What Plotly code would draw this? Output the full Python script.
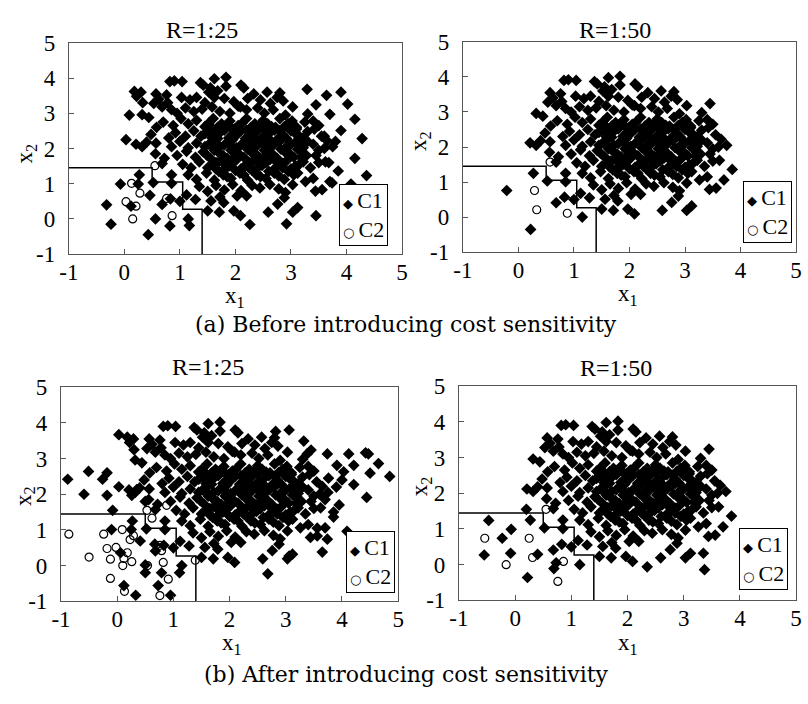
import plotly.graph_objects as go

tick_vals = [-1, 0, 1, 2, 3, 4, 5]
tick_text = ["-1", "0", "1", "2", "3", "4", "5"]
boundary_x = [-1, 0.5, 0.5, 1.05, 1.05, 1.4, 1.4]
boundary_y = [1.45, 1.45, 1.05, 1.05, 0.27, 0.27, -1]
titles = ["R=1:25", "R=1:50", "R=1:25", "R=1:50"]
captions = ["(a) Before introducing cost sensitivity", "(b) After introducing cost sensitivity"]
class_names = ["C1", "C2"]

# C1 points shared by all four panels (majority class cloud)
c1_core = [
    (0.82, 3.9), (0.9, 3.92), (1.04, 3.9), (1.37, 3.87), (1.62, 3.98), (1.83, 4.02),
    (1.42, 3.8), (1.55, 3.72), (1.68, 3.64), (1.83, 3.77), (2.1, 3.8), (2.15, 3.72), (2.33, 3.55),
    (2.57, 3.6), (2.8, 3.58), (0.57, 3.55), (0.76, 3.52), (1.52, 3.6),
    (0.53, 3.28), (0.62, 3.4), (0.78, 3.3), (1.03, 3.45), (1.18, 3.38), (1.3, 3.45), (1.45, 3.3),
    (1.62, 3.45), (1.8, 3.42), (1.97, 3.33), (2.22, 3.42), (2.45, 3.38), (2.63, 3.28), (2.75, 3.45),
    (2.86, 3.35), (3.45, 3.24), (2.05, 3.2),
    (0.32, 2.96), (0.44, 2.88), (0.68, 3.18), (0.85, 3.1), (0.95, 3.0), (1.1, 3.15), (1.25, 3.05),
    (1.4, 3.12), (1.58, 3.18), (1.72, 3.05), (1.9, 3.0), (2.09, 3.18), (2.2, 3.1), (2.4, 3.15),
    (2.52, 3.0), (2.68, 3.1), (2.9, 2.95), (3.03, 3.18), (3.3, 2.98), (3.4, 2.78),
    (0.58, 2.6), (0.7, 2.75), (0.88, 2.65), (1.02, 2.85), (1.15, 2.7), (1.3, 2.8), (1.45, 2.62),
    (1.6, 2.85), (1.75, 2.7), (1.9, 2.78), (2.05, 2.65), (2.2, 2.85), (2.35, 2.7), (2.5, 2.8),
    (2.65, 2.62), (2.8, 2.85), (2.95, 2.7), (3.1, 2.6), (3.25, 2.75), (3.5, 2.65), (3.42, 2.55),
    (0.48, 2.4), (0.8, 2.3), (0.92, 2.45), (1.1, 2.35), (1.25, 2.5), (1.38, 2.35), (1.52, 2.5),
    (1.65, 2.38), (1.8, 2.52), (1.95, 2.4), (2.1, 2.5), (2.25, 2.35), (2.4, 2.5), (2.55, 2.38),
    (2.7, 2.52), (2.85, 2.4), (3.0, 2.5), (3.15, 2.35), (3.3, 2.48), (3.55, 2.35), (3.65, 2.22),
    (0.21, 2.12), (0.32, 2.05), (0.4, 2.18), (0.57, 2.15), (0.85, 2.05), (1.0, 2.2), (1.15, 2.02),
    (1.3, 2.15), (1.45, 2.05), (1.6, 2.2), (1.72, 2.05), (1.88, 2.18), (2.02, 2.02), (2.18, 2.2),
    (2.32, 2.05), (2.48, 2.18), (2.62, 2.02), (2.78, 2.2), (2.92, 2.05), (3.08, 2.18), (3.22, 2.02),
    (3.4, 2.12), (3.6, 2.0), (3.75, 2.05),
    (0.56, 1.85), (0.72, 1.72), (0.95, 1.8), (1.12, 1.92), (1.28, 1.75), (1.42, 1.9), (1.55, 1.72),
    (1.7, 1.88), (1.85, 1.72), (2.0, 1.9), (2.15, 1.75), (2.3, 1.92), (2.45, 1.72), (2.6, 1.88),
    (2.75, 1.72), (2.9, 1.9), (3.05, 1.75), (3.2, 1.9), (3.45, 1.8), (3.62, 1.62), (3.5, 1.95),
    (0.68, 1.57), (1.05, 1.55), (1.2, 1.45), (1.35, 1.62), (1.5, 1.45), (1.65, 1.6), (1.8, 1.42),
    (1.95, 1.58), (2.1, 1.42), (2.25, 1.6), (2.4, 1.45), (2.55, 1.6), (2.7, 1.42), (2.85, 1.58),
    (3.0, 1.42), (3.15, 1.55), (3.35, 1.45), (3.85, 1.36), (3.5, 1.6),
    (1.15, 1.25), (1.3, 1.12), (1.48, 1.3), (1.62, 1.1), (1.78, 1.25), (1.92, 1.15), (2.08, 1.3),
    (2.22, 1.1), (2.38, 1.25), (2.55, 1.15), (2.7, 1.3), (2.88, 1.12), (3.05, 1.25), (3.26, 1.06),
    (3.4, 1.15), (3.7, 1.06),
    (1.35, 0.92), (1.5, 0.78), (1.65, 0.95), (1.8, 0.82), (1.95, 0.98), (2.1, 0.8), (2.3, 0.95),
    (2.44, 0.88), (2.62, 0.98), (2.78, 0.85), (2.9, 0.75), (3.03, 0.97), (3.44, 0.79), (3.56, 0.83),
    (1.56, 0.51), (1.5, 0.23), (1.71, 0.19), (1.79, 0.46), (1.97, 0.23), (2.03, 0.65), (2.09, 0.09),
    (2.2, 0.65), (2.59, 0.19), (2.76, 0.42), (2.88, 0.6), (3.03, 0.19), (3.12, 0.32), (1.72, 0.62),
    (0.85, 1.25), (0.85, 1.01), (0.68, 0.41), (0.83, 0.57), (1.0, 0.5), (1.15, 0.0), (1.12, 0.68),
    (1.28, 0.55), (0.52, 1.03), (0.27, 1.25),
]

# dense centre of the C1 cloud
c1_dense = [
    (1.52, 2.72), (1.68, 2.6), (1.82, 2.65), (1.98, 2.55), (2.12, 2.72), (2.28, 2.6), (2.42, 2.62),
    (2.58, 2.7), (2.72, 2.6), (2.88, 2.62), (3.02, 2.78),
    (1.45, 2.42), (1.58, 2.3), (1.72, 2.45), (1.88, 2.3), (2.02, 2.42), (2.18, 2.28), (2.32, 2.42),
    (2.48, 2.3), (2.62, 2.45), (2.78, 2.3), (2.92, 2.28), (3.08, 2.42), (3.22, 2.3),
    (1.52, 2.12), (1.68, 2.28), (1.8, 2.1), (1.95, 2.25), (2.1, 2.1), (2.25, 2.25), (2.4, 2.1),
    (2.55, 2.25), (2.7, 2.12), (2.85, 2.28), (3.0, 2.12), (3.15, 2.25), (3.3, 2.2),
    (1.48, 1.82), (1.62, 1.95), (1.78, 1.8), (1.92, 1.95), (2.08, 1.82), (2.22, 1.98), (2.38, 1.82),
    (2.52, 1.95), (2.68, 1.82), (2.82, 1.98), (2.98, 1.85), (3.12, 1.98), (3.28, 1.8),
    (1.58, 1.55), (1.72, 1.65), (1.88, 1.5), (2.02, 1.68), (2.18, 1.52), (2.32, 1.65), (2.48, 1.52),
    (2.62, 1.68), (2.78, 1.52), (2.92, 1.65), (3.08, 1.5), (3.22, 1.62),
    (1.7, 1.35), (1.85, 1.2), (2.0, 1.38), (2.15, 1.25), (2.3, 1.38), (2.45, 1.2), (2.6, 1.35),
    (2.78, 1.22), (2.95, 1.35), (3.12, 1.3),
    (1.6, 2.55), (1.9, 2.62), (2.2, 2.52), (2.5, 2.58), (2.8, 2.5), (3.1, 2.55),
    (1.62, 2.02), (1.92, 2.08), (2.28, 1.9), (2.55, 2.05), (2.88, 1.92), (3.18, 2.1),
    (1.65, 1.42), (1.98, 1.75), (2.25, 1.45), (2.52, 1.75), (2.85, 1.45), (3.18, 1.75),
    (2.35, 2.3), (2.65, 2.2), (2.0, 2.35), (2.42, 1.6), (2.72, 1.65), (1.78, 1.6),
]

# panel (a) R=1:25 extra C1 points
c1_extra_a25 = [
    (0.18, 3.62), (0.3, 3.6), (0.22, 3.48), (0.33, 3.3), (0.09, 2.95), (0.03, 2.25),
    (3.29, 3.68), (3.64, 3.51), (3.9, 3.6), (4.02, 3.26), (3.7, 2.97), (4.15, 2.83), (4.28, 2.28),
    (3.9, 2.51), (4.15, 1.72), (4.36, 1.23), (4.08, 0.99), (3.74, 1.02), (3.68, 1.6), (3.45, 0.09),
    (2.92, -0.14), (2.26, -0.16), (3.8, 2.2), (3.6, 2.35),
    (-0.32, 0.40), (-0.24, -0.15), (-0.07, 0.99), (0.25, 0.99), (0.12, 0.36), (0.46, 0.67),
    (0.56, 0.0), (0.43, -0.45), (0.82, -0.2), (1.17, -0.19),
]
c2_a25 = [(0.55, 1.51), (0.13, 1.01), (0.28, 0.73), (0.03, 0.49), (0.21, 0.36), (0.15, 0.0),
          (0.76, 0.58), (0.86, 0.09)]

# panel (a) R=1:50
c1_extra_a50 = [(-0.21, 0.76), (0.22, -0.35)]
c2_a50 = [(0.57, 1.57), (0.29, 0.76), (0.33, 0.21), (0.88, 0.11)]

# panel (b) R=1:25
c1_extra_b25 = [
    (0.03, 3.67), (0.18, 3.6), (0.29, 3.55), (0.22, 3.45), (0.3, 3.25),
    (-0.88, 2.42), (-0.51, 2.64), (-0.59, 2.0), (-0.26, 2.42), (-0.18, 2.6), (0.03, 2.21),
    (-0.18, 1.97), (-0.08, 1.55), (0.26, 1.97), (0.35, 2.13), (0.5, 1.8),
    (4.85, 2.5), (4.65, 2.86), (4.47, 3.13), (4.42, 3.16), (4.12, 3.13), (4.21, 2.81), (4.5, 2.59),
    (4.21, 2.27), (4.44, 1.91), (4.03, 2.63), (3.91, 2.81), (3.74, 3.13), (3.76, 2.45), (4.09, 0.96),
    (3.65, 0.38), (3.74, 0.74), (3.56, 1.05), (2.68, -0.23), (3.06, 0.27), (3.06, 3.8), (2.82, 3.76),
    (3.32, 3.49), (3.38, 3.13), (3.9, 2.2), (4.0, 2.4), (3.95, 1.7), (3.85, 1.5), (3.7, 1.85),
    (-0.1, 1.01), (0.25, 1.01), (0.41, 0.69), (0.06, 0.36), (0.67, 0.6), (0.5, 0.02), (0.5, -0.2),
    (0.79, -0.2), (0.73, -0.56), (0.12, -0.56), (0.33, -0.83), (0.95, -0.83), (1.11, -0.2),
]
c2_b25 = [
    (-0.86, 0.88), (-0.5, 0.24), (-0.24, 0.88), (0.09, 1.01), (-0.18, 0.48), (-0.02, 0.51),
    (-0.12, 0.18), (0.18, 0.36), (0.12, 0.2), (0.26, 0.11), (0.1, 0.0), (0.29, 0.84), (0.23, 0.73),
    (-0.12, -0.36), (0.13, -0.72), (0.53, 1.55), (0.62, 1.33), (0.88, 1.69), (0.76, 0.57),
    (0.79, 0.42), (0.54, 0.0), (0.82, 0.09), (0.91, -0.38), (0.76, -0.84), (1.39, 0.15),
]

# panel (b) R=1:50
c1_extra_b50 = [
    (3.37, -0.14), (2.35, -0.06), (3.35, 0.32),
    (-0.47, 1.24), (-0.55, 0.27), (-0.07, 0.99), (-0.23, 0.74), (-0.08, 0.32), (0.2, 1.55),
    (0.4, 0.29), (0.22, -0.36), (0.69, -0.11), (0.73, 0.05),
]
c2_b50 = [(-0.54, 0.74), (-0.16, 0.0), (0.25, 0.74), (0.31, 0.2), (0.55, 1.55), (0.86, 0.09),
          (0.76, -0.47)]

serif = "Liberation Serif, Times New Roman, serif"
panels = [
    dict(c1=c1_core + c1_dense + c1_extra_a25, c2=c2_a25,
         dx=[60, 400], dy=[32, 251], leg=(386, 243), xt=(230, 295), yt=(16, 147)),
    dict(c1=c1_core + c1_dense + c1_extra_a50, c2=c2_a50,
         dx=[462, 802], dy=[31, 249], leg=(798, 239), xt=(630, 293), yt=(419, 134)),
    dict(c1=c1_core + c1_dense + c1_extra_b25, c2=c2_b25,
         dx=[52, 396], dy=[389, 611], leg=(393, 602), xt=(226, 655), yt=(15, 502)),
    dict(c1=c1_core + c1_dense + c1_extra_b50, c2=c2_b50,
         dx=[458, 802], dy=[388, 610], leg=(794, 599), xt=(630, 655), yt=(419, 492)),
]
W, H = 808, 704
fig = go.Figure()
layout = dict(width=W, height=H, margin=dict(l=0, r=0, t=0, b=0),
              paper_bgcolor="white", plot_bgcolor="white", showlegend=False)
annotations = []
sym = ("<span style='font-family:DejaVu Sans;font-size:13px'>%s </span>")
legend_text = (sym % "\u25c6") + class_names[0] + "<br>" + (sym % "\u25cb") + class_names[1]
for i, p in enumerate(panels):
    n = "" if i == 0 else str(i + 1)
    xa, ya = "x" + n, "y" + n
    fig.add_trace(go.Scatter(x=boundary_x, y=boundary_y, mode="lines", xaxis=xa, yaxis=ya,
                             line=dict(color="black", width=1.5), hoverinfo="skip"))
    fig.add_trace(go.Scatter(x=[q[0] for q in p["c1"]], y=[q[1] for q in p["c1"]], mode="markers",
                             name=class_names[0], xaxis=xa, yaxis=ya,
                             marker=dict(symbol="diamond", size=9, color="black",
                                         line=dict(width=0))))
    fig.add_trace(go.Scatter(x=[q[0] for q in p["c2"]], y=[q[1] for q in p["c2"]], mode="markers",
                             name=class_names[1], xaxis=xa, yaxis=ya,
                             marker=dict(symbol="circle-open", size=8, color="black",
                                         line=dict(width=1.2, color="black"))))
    common = dict(range=[-1, 5], tickmode="array", tickvals=tick_vals, ticktext=tick_text,
                  ticks="inside", ticklen=5, tickcolor="#555", showline=True, linecolor="#555",
                  linewidth=1, mirror=True, showgrid=False, zeroline=False,
                  tickfont=dict(family=serif, size=23, color="black"))
    layout["xaxis" + n] = dict(common, domain=[p["dx"][0] / W, p["dx"][1] / W], anchor=ya,
                               ticklabelstandoff=-3)
    layout["yaxis" + n] = dict(common, domain=[1 - p["dy"][1] / H, 1 - p["dy"][0] / H], anchor=xa,
                               ticklabelstandoff=8)
    annotations.append(dict(text=legend_text, x=p["leg"][0] / W, y=1 - p["leg"][1] / H,
                            xref="paper", yref="paper", showarrow=False, align="left",
                            xanchor="right", yanchor="bottom", bordercolor="black",
                            borderwidth=1, borderpad=3, bgcolor="white",
                            font=dict(family=serif, size=22, color="black")))
    annotations.append(dict(text="x<sub>1</sub>", x=p["xt"][0] / W, y=1 - p["xt"][1] / H,
                            xref="paper", yref="paper", showarrow=False,
                            xanchor="center", yanchor="middle",
                            font=dict(family=serif, size=23, color="black")))
    annotations.append(dict(text="x<sub>2</sub>", x=p["yt"][0] / W, y=1 - p["yt"][1] / H,
                            xref="paper", yref="paper", showarrow=False, textangle=-90,
                            xanchor="center", yanchor="middle",
                            font=dict(family=serif, size=23, color="black")))

title_pos = [(196, 19), (617, 19), (202, 368), (618, 369)]
for t, (tx, ty) in zip(titles, title_pos):
    annotations.append(dict(text=t, x=tx / W, y=1 - ty / H, xref="paper", yref="paper",
                            showarrow=False, xanchor="center", yanchor="middle",
                            font=dict(family=serif, size=24, color="black")))
for c, cy in zip(captions, [324, 687]):
    annotations.append(dict(text=c, x=404 / W, y=1 - cy / H, xref="paper", yref="paper",
                            showarrow=False, xanchor="center", yanchor="middle",
                            font=dict(family="DejaVu Serif", size=22, color="black")))
layout["annotations"] = annotations
fig.update_layout(**layout)
fig.write_html("out.html", config={"displayModeBar": False})
